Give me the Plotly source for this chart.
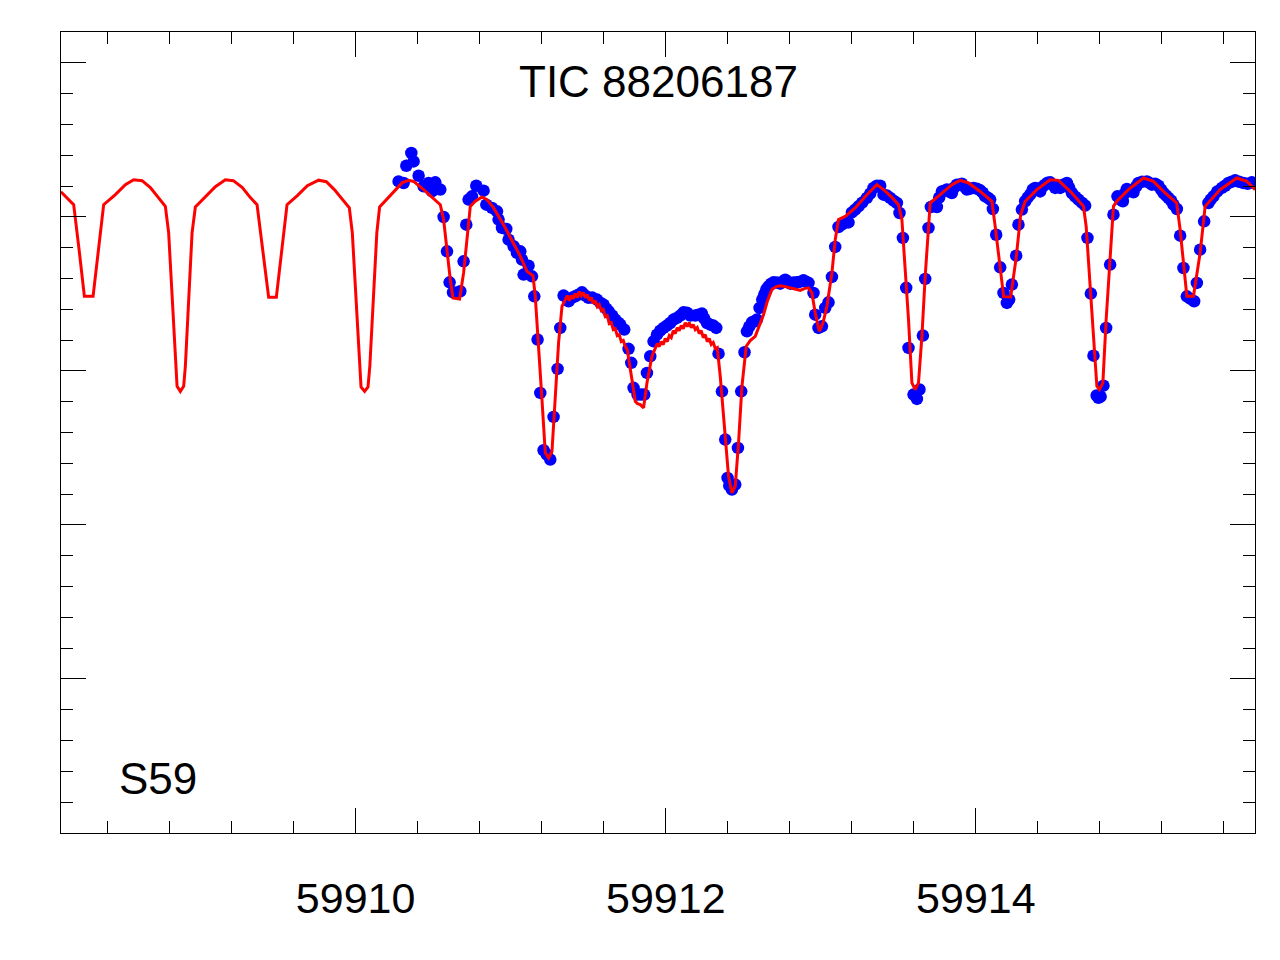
import plotly.graph_objects as go

T0 = 59910.0  # MJD reference; offsets below are days relative to this

# Model light curve (red line): time offset (d), normalized flux
model_dt = [
    -1.9007, -1.8182, -1.7834, -1.7492, -1.6931, -1.6570, -1.6248, -1.5493, -1.4849, -1.4313,
    -1.3772, -1.3237, -1.2721, -1.2270, -1.2057, -1.1838, -1.1625, -1.1515, -1.1303, -1.1090,
    -1.0980, -1.0767, -1.0548, -1.0335, -0.9691, -0.9046, -0.8401, -0.7885, -0.7305, -0.6789,
    -0.6357, -0.5983, -0.5609, -0.5113, -0.4758, -0.4423, -0.3759, -0.3114, -0.2386, -0.1889,
    -0.1373, -0.0858, -0.0406, -0.0213, 0.0013, 0.0239, 0.0348, 0.0580, 0.0799, 0.0916,
    0.1141, 0.1367, 0.1547, 0.2044, 0.2560, 0.3011, 0.3417, 0.3740, 0.4384, 0.4881,
    0.5461, 0.5674, 0.5893, 0.6106, 0.6280, 0.6705, 0.6963, 0.7221, 0.7395, 0.7718,
    0.8150, 0.8472, 0.8898, 0.9542, 1.0084, 1.0619, 1.1051, 1.1438, 1.1586, 1.1799,
    1.2018, 1.2231, 1.2444, 1.2663, 1.2876, 1.3088, 1.3308,
    1.3521, 1.3649, 1.3778, 1.3907, 1.4036, 1.4165, 1.4294, 1.4423, 1.4552, 1.4681,
    1.4810, 1.4939, 1.5068, 1.5197, 1.5326, 1.5455, 1.5584, 1.5713, 1.5842, 1.5970,
    1.6099, 1.6228, 1.6357, 1.6486, 1.6615, 1.6744, 1.6873, 1.7002, 1.7131, 1.7260,
    1.7389, 1.7518,
    1.7821, 1.8034, 1.8163, 1.8356, 1.8569, 1.8788, 1.9110,
    1.9323, 1.9452, 1.9581, 1.9710, 1.9839, 1.9968, 2.0097, 2.0226, 2.0355, 2.0484,
    2.0613, 2.0742, 2.0870, 2.0999, 2.1128, 2.1257, 2.1386, 2.1515, 2.1644, 2.1773,
    2.1902, 2.2031, 2.2160, 2.2289, 2.2418, 2.2547, 2.2676, 2.2805, 2.2934, 2.3063,
    2.3192, 2.3321,
    2.3514, 2.3836, 2.4049, 2.4268, 2.4481, 2.4694,
    2.4913, 2.5190, 2.5448, 2.5771, 2.6029, 2.6306, 2.6544, 2.6848, 2.7124, 2.7383,
    2.7705, 2.8028, 2.8350, 2.8672, 2.8930, 2.9207, 2.9427, 2.9639, 2.9897, 3.0136,
    3.0393, 3.0716, 3.0929, 3.1141, 3.1573, 3.2218, 3.2972, 3.3617, 3.4043, 3.4539,
    3.5010, 3.5229, 3.5442, 3.5655, 3.5874, 3.6087, 3.6299, 3.6519, 3.6731, 3.6944,
    3.7054, 3.7699, 3.8453, 3.8988, 3.9523, 4.0277, 4.1032, 4.1245, 4.1522, 4.1793,
    4.2244, 4.2599, 4.2889, 4.3179, 4.3934, 4.4791, 4.5326, 4.6190, 4.6938, 4.7112,
    4.7370, 4.7583, 4.7802, 4.7969, 4.8189, 4.8401, 4.8659, 4.8872, 4.9091, 4.9839,
    5.0806, 5.1451, 5.2205, 5.2947, 5.3173, 5.3385, 5.3605, 5.4030, 5.4462, 5.4784,
    5.5751, 5.6829, 5.7473, 5.8008,
]
model_flux = [
    1.0162, 1.0079, 0.9787, 0.9484, 0.9484, 0.9787, 1.0079, 1.0144, 1.0209, 1.0241,
    1.0235, 1.0190, 1.0125, 1.0068, 0.9896, 0.9463, 0.9030, 0.8900, 0.8867, 0.8900,
    0.9030, 0.9463, 0.9896, 1.0064, 1.0131, 1.0196, 1.0241, 1.0235, 1.0190, 1.0125,
    1.0079, 0.9787, 0.9478, 0.9478, 0.9787, 1.0079, 1.0138, 1.0202, 1.0238, 1.0228,
    1.0177, 1.0112, 1.0058, 0.9896, 0.9463, 0.9030, 0.8896, 0.8867, 0.8896, 0.9030,
    0.9463, 0.9896, 1.0064, 1.0118, 1.0177, 1.0222, 1.0237, 1.0230, 1.0177, 1.0131,
    1.0079, 0.9982, 0.9766, 0.9592, 0.9474, 0.9467, 0.9636, 0.9896, 1.0068, 1.0101,
    1.0129, 1.0112, 1.0058, 0.9949, 0.9841, 0.9744, 0.9646, 0.9618, 0.9484, 0.9182,
    0.8814, 0.8468, 0.8435, 0.8478, 0.8814, 0.9182, 0.9419,
    0.9463, 0.9489, 0.9456, 0.9489, 0.9469, 0.9502, 0.9476, 0.9515, 0.9489, 0.9508,
    0.9476, 0.9495, 0.9456, 0.9476, 0.9437, 0.9456, 0.9417, 0.9430, 0.9391, 0.9398,
    0.9352, 0.9359, 0.9307, 0.9313, 0.9268, 0.9274, 0.9229, 0.9235, 0.9190, 0.9197,
    0.9158, 0.9138,
    0.8943, 0.8803, 0.8788, 0.8781, 0.8760, 0.8922, 0.9095,
    0.9151, 0.9177, 0.9158, 0.9190, 0.9171, 0.9210, 0.9190, 0.9229, 0.9216, 0.9261,
    0.9242, 0.9281, 0.9261, 0.9294, 0.9274, 0.9313, 0.9287, 0.9313, 0.9281, 0.9300,
    0.9268, 0.9281, 0.9242, 0.9261, 0.9216, 0.9235, 0.9190, 0.9210, 0.9171, 0.9184,
    0.9145, 0.9151,
    0.8965, 0.8597, 0.8316, 0.8208, 0.8251, 0.8533,
    0.8900, 0.9160, 0.9197, 0.9224, 0.9294, 0.9365, 0.9450, 0.9528, 0.9547, 0.9553,
    0.9547, 0.9539, 0.9534, 0.9523, 0.9534, 0.9539, 0.9506, 0.9376, 0.9257, 0.9311,
    0.9419, 0.9636, 0.9852, 0.9982, 1.0003, 1.0058, 1.0144, 1.0209, 1.0177, 1.0131,
    1.0079, 0.9982, 0.9657, 0.9333, 0.8922, 0.8879, 0.8922, 0.9224, 0.9614, 0.9982,
    1.0090, 1.0144, 1.0209, 1.0237, 1.0220, 1.0165, 1.0101, 0.9938, 0.9701, 0.9482,
    0.9480, 0.9735, 1.0014, 1.0101, 1.0177, 1.0241, 1.0237, 1.0155, 1.0068, 0.9938,
    0.9549, 0.9224, 0.8900, 0.8879, 0.8922, 0.9333, 0.9766, 1.0068, 1.0101, 1.0177,
    1.0252, 1.0230, 1.0155, 1.0090, 0.9917, 0.9679, 0.9484, 0.9484, 0.9766, 1.0068,
    1.0177, 1.0252, 1.0230, 1.0177,
]

# TESS Sector 59 photometry (blue points): time offset (d), normalized flux
obs_dt = [
    0.2772, 0.3095, 0.3269, 0.3591, 0.3740, 0.4062, 0.4384, 0.4707, 0.4926, 0.5139,
    0.5461, 0.5674, 0.5893, 0.6061, 0.6280, 0.6493, 0.6750, 0.6963, 0.7137, 0.7286,
    0.7505, 0.7782, 0.8253, 0.8427, 0.8794, 0.9117, 0.9220, 0.9439, 0.9716, 0.9865,
    1.0187, 1.0406, 1.0619, 1.0729, 1.0832, 1.1154, 1.1373, 1.1522, 1.1734, 1.1909,
    1.2121, 1.2328, 1.2553, 1.2766, 1.3024, 1.3198, 1.3411, 1.3733, 1.3972, 1.4165,
    1.4359, 1.4597, 1.4810, 1.5023, 1.5261, 1.5564, 1.5777, 1.5990, 1.6164, 1.6312,
    1.6551, 1.6744, 1.6938, 1.7067, 1.7324, 1.7602, 1.7776, 1.7924, 1.8182, 1.8401,
    1.8614, 1.8788, 1.9001, 1.9214, 1.9433, 1.9646, 1.9858, 2.0077, 2.0290, 2.0503,
    2.0722, 2.0935, 2.1148, 2.1367, 2.1580, 2.1902, 2.2096, 2.2334, 2.2483, 2.2657,
    2.2869, 2.3063, 2.3256, 2.3404, 2.3624, 2.3836, 2.3985, 2.4094, 2.4268, 2.4481,
    2.4655, 2.4868, 2.5081, 2.5236, 2.5384, 2.5558, 2.5706, 2.5880, 2.6048, 2.6222,
    2.6351, 2.6480, 2.6628, 2.6802, 2.6951, 2.7170, 2.7383, 2.7544, 2.7705, 2.7866,
    2.8028, 2.8240, 2.8459, 2.8672, 2.8885, 2.9059, 2.9207, 2.9530, 2.9639, 2.9852,
    3.0071, 3.0284, 3.0497, 3.0716, 3.0929, 3.1141, 3.1361, 3.1573, 3.1786, 3.2005,
    3.2218, 3.2431, 3.2669, 3.2972, 3.3185, 3.3398, 3.3617, 3.3830, 3.4043, 3.4262,
    3.4475, 3.4688, 3.4907, 3.5074, 3.5294, 3.5507, 3.5655, 3.5977, 3.6196, 3.6364,
    3.6583, 3.6731, 3.6944, 3.7099, 3.7292, 3.7486, 3.7634, 3.7808, 3.7956, 3.8130,
    3.8278, 3.8453, 3.8601, 3.8775, 3.8923, 3.9097, 3.9246, 3.9420, 3.9633, 3.9846,
    4.0065, 4.0277, 4.0439, 4.0600, 4.0761, 4.0922, 4.1096, 4.1309, 4.1567, 4.1780,
    4.2000, 4.2148, 4.2321, 4.2599, 4.2747, 4.2966, 4.3179, 4.3340, 4.3501, 4.3663,
    4.3824, 4.3985, 4.4146, 4.4307, 4.4468, 4.4630, 4.4791, 4.4952, 4.5113, 4.5275,
    4.5436, 4.5629, 4.5868, 4.6016, 4.6190, 4.6403, 4.6615, 4.6835, 4.7048, 4.7196,
    4.7415, 4.7583, 4.7789, 4.7905, 4.8047, 4.8227, 4.8401, 4.8659, 4.8872, 4.9130,
    4.9304, 4.9478, 4.9594, 4.9736, 4.9949, 5.0162, 5.0336, 5.0484, 5.0723, 5.1026,
    5.1174, 5.1348, 5.1561, 5.1773, 5.1948, 5.2096, 5.2270, 5.2418, 5.2592, 5.2741,
    5.2960, 5.3173, 5.3385, 5.3605, 5.3818, 5.4076, 5.4250, 5.4462, 5.4720, 5.4998,
    5.5140, 5.5320, 5.5559, 5.5862, 5.6075, 5.6287, 5.6494, 5.6719, 5.6977, 5.7255,
    5.7526, 5.7795,
]
obs_flux = [
    1.0230, 1.0220, 1.0332, 1.0415, 1.0360, 1.0267, 1.0198, 1.0220, 1.0165, 1.0224,
    1.0177, 0.9999, 0.9776, 0.9575, 0.9510, 0.9508, 0.9517, 0.9711, 0.9949, 1.0112,
    1.0133, 1.0202, 1.0170, 1.0079, 1.0058, 1.0036, 0.9982, 0.9928, 0.9921, 0.9852,
    0.9809, 0.9766, 0.9776, 0.9722, 0.9625, 0.9683, 0.9614, 0.9484, 0.9203, 0.8857,
    0.8485, 0.8457, 0.8424, 0.8701, 0.9013, 0.9279, 0.9489, 0.9452, 0.9476, 0.9484,
    0.9495, 0.9510, 0.9489, 0.9474, 0.9476, 0.9463, 0.9443, 0.9430, 0.9404, 0.9387,
    0.9359, 0.9333, 0.9313, 0.9300, 0.9268, 0.9143, 0.9052, 0.8890, 0.8846, 0.8846,
    0.8846, 0.8987, 0.9095, 0.9192, 0.9235, 0.9261, 0.9279, 0.9294, 0.9311, 0.9333,
    0.9344, 0.9359, 0.9380, 0.9378, 0.9359, 0.9359, 0.9365, 0.9372, 0.9339, 0.9311,
    0.9300, 0.9294, 0.9279, 0.9112, 0.8867, 0.8554, 0.8305, 0.8255, 0.8230, 0.8262,
    0.8500, 0.8867, 0.9121, 0.9257, 0.9287, 0.9315, 0.9320, 0.9333, 0.9409, 0.9463,
    0.9495, 0.9528, 0.9549, 0.9566, 0.9575, 0.9573, 0.9566, 0.9579, 0.9592, 0.9579,
    0.9566, 0.9573, 0.9575, 0.9579, 0.9588, 0.9579, 0.9571, 0.9506, 0.9365, 0.9279,
    0.9289, 0.9409, 0.9445, 0.9610, 0.9805, 0.9934, 0.9949, 0.9962, 0.9964, 1.0029,
    1.0047, 1.0068, 1.0092, 1.0123, 1.0151, 1.0188, 1.0202, 1.0202, 1.0144, 1.0138,
    1.0123, 1.0105, 1.0090, 1.0025, 0.9863, 0.9539, 0.9149, 0.8846, 0.8818, 0.8879,
    0.9229, 0.9597, 0.9928, 1.0064, 1.0073, 1.0064, 1.0125, 1.0165, 1.0170, 1.0177,
    1.0164, 1.0155, 1.0190, 1.0209, 1.0209, 1.0215, 1.0196, 1.0177, 1.0183, 1.0188,
    1.0183, 1.0172, 1.0157, 1.0133, 1.0125, 1.0112, 1.0051, 0.9884, 0.9672, 0.9506,
    0.9441, 0.9463, 0.9560, 0.9748, 0.9949, 1.0047, 1.0101, 1.0125, 1.0144, 1.0177,
    1.0188, 1.0177, 1.0165, 1.0196, 1.0209, 1.0222, 1.0224, 1.0209, 1.0188, 1.0196,
    1.0188, 1.0209, 1.0220, 1.0190, 1.0155, 1.0131, 1.0112, 1.0092, 1.0073, 0.9863,
    0.9502, 0.9099, 0.8840, 0.8825, 0.8833, 0.8904, 0.9279, 0.9690, 1.0014, 1.0133,
    1.0112, 1.0101, 1.0151, 1.0181, 1.0170, 1.0159, 1.0196, 1.0220, 1.0228, 1.0230,
    1.0222, 1.0209, 1.0215, 1.0202, 1.0177, 1.0155, 1.0138, 1.0123, 1.0105, 1.0079,
    1.0051, 0.9878, 0.9668, 0.9484, 0.9469, 0.9452, 0.9571, 0.9787, 0.9971, 1.0090,
    1.0112, 1.0133, 1.0164, 1.0188, 1.0202, 1.0220, 1.0228, 1.0237, 1.0228, 1.0220,
    1.0215, 1.0224,
]

x_range = [59908.1, 59915.8]
y_range = [0.60, 1.12]
x_tick_vals = [59910, 59912, 59914]
x_tick_text = ["59910", "59912", "59914"]
title_text = "TIC 88206187"
sector_label = "S59"

FONT = "Liberation Sans, Arial, Helvetica, sans-serif"

model_t = [T0 + d for d in model_dt]
obs_t = [T0 + d for d in obs_dt]

fig = go.Figure()
fig.add_trace(go.Scatter(
    x=obs_t, y=obs_flux, mode="markers",
    marker=dict(color="#0000ff", size=12.5, line=dict(width=0)),
    showlegend=False, hoverinfo="skip",
))
fig.add_trace(go.Scatter(
    x=model_t, y=model_flux, mode="lines",
    line=dict(color="#ff0000", width=3),
    showlegend=False, hoverinfo="skip",
))

axis_common = dict(
    showline=True, linecolor="black", linewidth=1.3, mirror="ticks",
    ticks="inside", tickcolor="black", tickwidth=1.3, ticklen=25,
    showgrid=False, zeroline=False,
)

fig.update_xaxes(
    range=x_range, tickvals=x_tick_vals, ticktext=x_tick_text,
    tickfont=dict(family=FONT, size=43, color="black"),
    ticklabelstandoff=27,
    minor=dict(ticks="inside", dtick=0.4, tick0=59910, ticklen=12,
               tickwidth=1.3, tickcolor="black", showgrid=False),
    **axis_common,
)
fig.update_yaxes(
    range=y_range, tick0=0.6, dtick=0.1, showticklabels=False,
    minor=dict(ticks="inside", dtick=0.02, tick0=0.6, ticklen=12,
               tickwidth=1.3, tickcolor="black", showgrid=False),
    **axis_common,
)

fig.add_annotation(
    text=title_text, xref="paper", yref="paper", x=0.5, y=0.9386,
    xanchor="center", yanchor="middle", showarrow=False,
    font=dict(family=FONT, size=44, color="black"),
)
fig.add_annotation(
    text=sector_label, xref="paper", yref="paper", x=0.047, y=0.0682,
    xanchor="left", yanchor="middle", showarrow=False,
    font=dict(family=FONT, size=44, color="black"),
)

fig.update_layout(
    width=1280, height=960,
    margin=dict(l=53, r=33, t=24, b=135, pad=0),
    paper_bgcolor="white", plot_bgcolor="white",
    font=dict(family=FONT, color="black"),
)

fig.write_html("out.html")
